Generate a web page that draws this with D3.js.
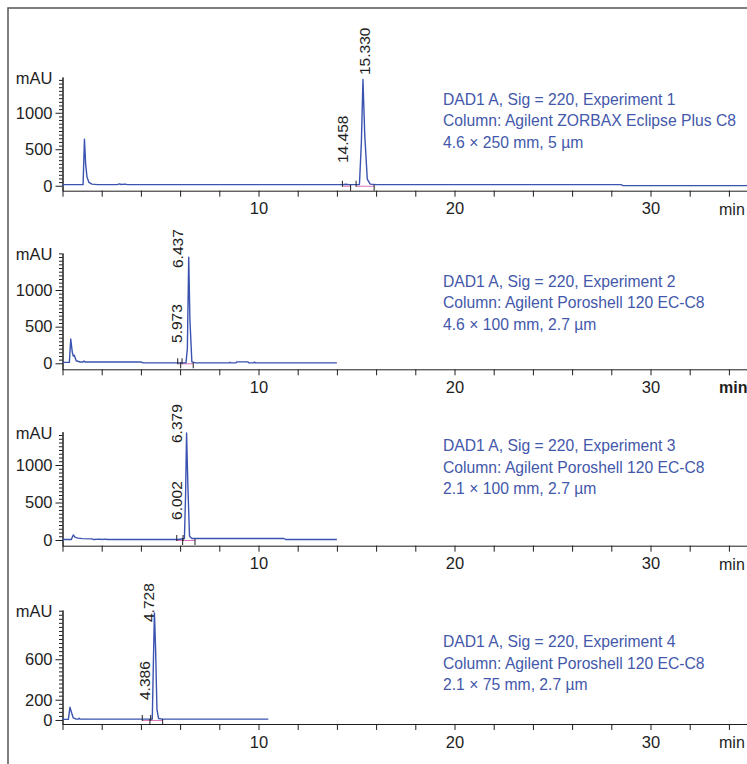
<!DOCTYPE html>
<html>
<head>
<meta charset="utf-8">
<script src="https://cdn.jsdelivr.net/npm/d3@7"></script>
<style>
  body { margin: 0; background: #fff; }
  svg text { font-family: "Liberation Sans", Arial, sans-serif; }
</style>
</head>
<body>
<div class="canvas"></div>
<script>
// x axis, minutes
const xTicks = d3.range(0, 35, 2);
const xLabels = [10, 20, 30];

// chromatogram traces, [min, mAU]
const exp1 = [
    [0, 15], [1.05, 15], [1.12, 636], [1.18, 300], [1.25, 120], [1.35, 45], [1.5, 22], [1.8, 15],
    [2.8, 15], [2.9, 26], [3.0, 17], [3.2, 22], [3.3, 15], [14.3, 15], [14.45, 20], [14.6, 15],
    [15.15, 17], [15.25, 600], [15.33, 1457], [15.42, 700], [15.55, 90], [15.7, 22], [16, 15],
    [28.5, 15], [28.6, 2], [35, 2]
];
const exp2 = [
    [0, 12], [0.35, 12], [0.42, 331], [0.5, 150], [0.55, 100], [0.6, 110], [0.7, 35], [0.9, 18],
    [1.05, 18], [1.1, 30], [1.15, 18], [4.0, 18], [4.1, 6], [6.3, 6], [6.37, 200], [6.44, 1446],
    [6.5, 600], [6.6, 20], [6.8, 6], [8.5, 6], [8.55, 14], [8.6, 6], [8.85, 6], [8.9, 20],
    [9.45, 20], [9.5, 6], [9.75, 6], [9.8, 16], [9.85, 6], [14, 6]
];
const exp3 = [
    [0, 6], [0.45, 6], [0.55, 67], [0.65, 35], [0.8, 25], [1.0, 18], [1.5, 15], [1.6, 6],
    [1.9, 12], [2.0, 6], [2.2, 12], [2.3, 6], [5.9, 6], [6.22, 20], [6.28, 600], [6.33, 1427],
    [6.4, 700], [6.48, 50], [6.6, 20], [11.3, 20], [11.4, 6], [14, 6]
];
const exp4 = [
    [0, 6], [0.3, 6], [0.38, 125], [0.45, 80], [0.55, 20], [0.7, 8], [0.8, 8], [0.85, 18],
    [0.9, 8], [4.58, 8], [4.63, 500], [4.69, 1057], [4.75, 700], [4.82, 100], [4.9, 15],
    [5.1, 8], [10.5, 8]
];

// integrated peaks: retention time, integration start/end, label level (mAU)
const exp1Peaks = [
    { rt: 14.458, start: 14.28, end: 14.7, labelAt: 311 },
    { rt: 15.330, start: 14.98, end: 15.9, labelAt: 1517 }
];
const exp2Peaks = [
    { rt: 5.973, start: 5.88, end: 6.03, labelAt: 277 },
    { rt: 6.437, start: 6.1, end: 6.67, labelAt: 1300 }
];
const exp3Peaks = [
    { rt: 6.002, start: 5.83, end: 6.13, labelAt: 267 },
    { rt: 6.379, start: 6.15, end: 6.76, labelAt: 1293 }
];
const exp4Peaks = [
    { rt: 4.386, start: 4.07, end: 4.46, labelAt: 197 },
    { rt: 4.728, start: 4.5, end: 5.11, labelAt: 968 }
];

// run description text
const exp1Info = ['DAD1 A, Sig = 220, Experiment 1', 'Column: Agilent ZORBAX Eclipse Plus C8', '4.6 × 250 mm, 5 µm'];
const exp2Info = ['DAD1 A, Sig = 220, Experiment 2', 'Column: Agilent Poroshell 120 EC-C8', '4.6 × 100 mm, 2.7 µm'];
const exp3Info = ['DAD1 A, Sig = 220, Experiment 3', 'Column: Agilent Poroshell 120 EC-C8', '2.1 × 100 mm, 2.7 µm'];
const exp4Info = ['DAD1 A, Sig = 220, Experiment 4', 'Column: Agilent Poroshell 120 EC-C8', '2.1 × 75 mm, 2.7 µm'];

// y tick labels
const yLabels123 = [0, 500, 1000];
const yLabels4 = [0, 200, 600];

// layout of the four stacked panels
const panels = [
    { trace: exp1, peaks: exp1Peaks, info: exp1Info, yLabels: yLabels123, yMinor: 50,
      yDomain: [-68, 1490], top: 77, axisY: 190.7, infoY: 104.5, nudge: [2, 7], bold: false },
    { trace: exp2, peaks: exp2Peaks, info: exp2Info, yLabels: yLabels123, yMinor: 50,
      yDomain: [-82, 1505], top: 253, axisY: 369.3, infoY: 286.5, nudge: [2, -6], bold: true },
    { trace: exp3, peaks: exp3Peaks, info: exp3Info, yLabels: yLabels123, yMinor: 50,
      yDomain: [-76, 1444], top: 431.7, axisY: 545.7, infoY: 451, nudge: [2, -5.5], bold: false },
    { trace: exp4, peaks: exp4Peaks, info: exp4Info, yLabels: yLabels4, yMinor: 40,
      yDomain: [-40, 1087], top: 610, axisY: 724, infoY: 647, nudge: [1.5, -1], bold: false }
];

const width = 747;
const height = 764;
const lineColor = '#3a53b0';
const infoColor = '#4358aa';
const inkColor = '#1e1e1e';

const svg = d3.select('.canvas')
    .append('svg')
    .attr('width', width)
    .attr('height', height);

// outer frame (left and top edges only)
svg.append('path')
    .attr('d', `M8,${height} L8,8 L${width},8`)
    .attr('fill', 'none')
    .attr('stroke', '#555')
    .attr('stroke-width', 1.5);

const x = d3.scaleLinear()
    .domain([0, 35])
    .range([62.5, 62.5 + 19.6 * 35]);

panels.forEach(p => {
    const g = svg.append('g');

    const y = d3.scaleLinear()
        .domain(p.yDomain)
        .range([p.axisY, p.top]);

    // x axis
    const xAxis = d3.axisBottom(x)
        .tickValues(xTicks)
        .tickSize(6)
        .tickSizeOuter(0)
        .tickPadding(6)
        .tickFormat(d => xLabels.includes(d) ? d : '');

    const xg = g.append('g')
        .attr('transform', `translate(0, ${p.axisY})`)
        .call(xAxis);
    xg.selectAll('text').attr('font-size', 16.5).attr('fill', inkColor)
        .attr('font-family', '"Liberation Sans", Arial, sans-serif');
    xg.selectAll('line, path').attr('stroke', inkColor);

    g.append('text')
        .attr('x', 719)
        .attr('y', p.axisY + 24)
        .attr('font-size', 16)
        .attr('font-weight', p.bold ? 'bold' : 'normal')
        .attr('fill', inkColor)
        .text('min');

    // y axis: minor ticks, then major ticks with labels
    const yMax = p.yDomain[1];
    const minor = d3.range(0, yMax, p.yMinor).filter(v => !p.yLabels.includes(v));
    const ygMinor = g.append('g')
        .attr('transform', `translate(${x(0)}, 0)`)
        .call(d3.axisLeft(y).tickValues(minor).tickSize(3.5).tickSizeOuter(0).tickFormat(''));
    ygMinor.selectAll('line, path').attr('stroke', inkColor);

    const yg = g.append('g')
        .attr('transform', `translate(${x(0)}, 0)`)
        .call(d3.axisLeft(y).tickValues(p.yLabels).tickSize(7).tickSizeOuter(0).tickPadding(3)
            .tickFormat(d3.format('d')));
    yg.selectAll('text').attr('font-size', 16.5).attr('fill', inkColor)
        .attr('font-family', '"Liberation Sans", Arial, sans-serif');
    yg.selectAll('line, path').attr('stroke', inkColor);

    g.append('text')
        .attr('x', 52.5)
        .attr('y', p.top + 7)
        .attr('text-anchor', 'end')
        .attr('font-size', 16.5)
        .attr('fill', inkColor)
        .text('mAU');

    // integration baseline and markers
    const y0 = y(0);
    g.selectAll('.base')
        .data(p.peaks)
        .enter()
        .append('line')
        .attr('x1', d => x(d.start))
        .attr('x2', d => x(d.end))
        .attr('y1', y0 + 0.5)
        .attr('y2', y0 + 0.5)
        .attr('stroke', '#e070b8')
        .attr('stroke-width', 1);

    // chromatogram line
    const line = d3.line()
        .x(d => x(d[0]))
        .y(d => y(d[1]));

    g.append('path')
        .datum(p.trace)
        .attr('d', line)
        .attr('fill', 'none')
        .attr('stroke', lineColor)
        .attr('stroke-width', 1.4)
        .attr('stroke-linejoin', 'round');

    g.selectAll('.mstart')
        .data(p.peaks)
        .enter()
        .append('line')
        .attr('x1', d => x(d.start))
        .attr('x2', d => x(d.start))
        .attr('y1', y0 - 5)
        .attr('y2', y0 + 1)
        .attr('stroke', inkColor);

    g.selectAll('.mend')
        .data(p.peaks)
        .enter()
        .append('line')
        .attr('x1', d => x(d.end))
        .attr('x2', d => x(d.end))
        .attr('y1', y0 - 1)
        .attr('y2', y0 + 5)
        .attr('stroke', inkColor);

    // retention time labels
    g.selectAll('.rt')
        .data(p.peaks)
        .enter()
        .append('text')
        .attr('transform', (d, i) => `translate(${x(d.rt) + p.nudge[i]}, ${y(d.labelAt)}) rotate(-90)`)
        .attr('font-size', 15.5)
        .attr('fill', inkColor)
        .text(d => d.rt.toFixed(3));

    // run description
    g.selectAll('.info')
        .data(p.info)
        .enter()
        .append('text')
        .attr('x', 443)
        .attr('y', (d, i) => p.infoY + i * 21.5)
        .attr('font-size', 15.7)
        .attr('fill', infoColor)
        .text(d => d);
});
</script>
</body>
</html>
